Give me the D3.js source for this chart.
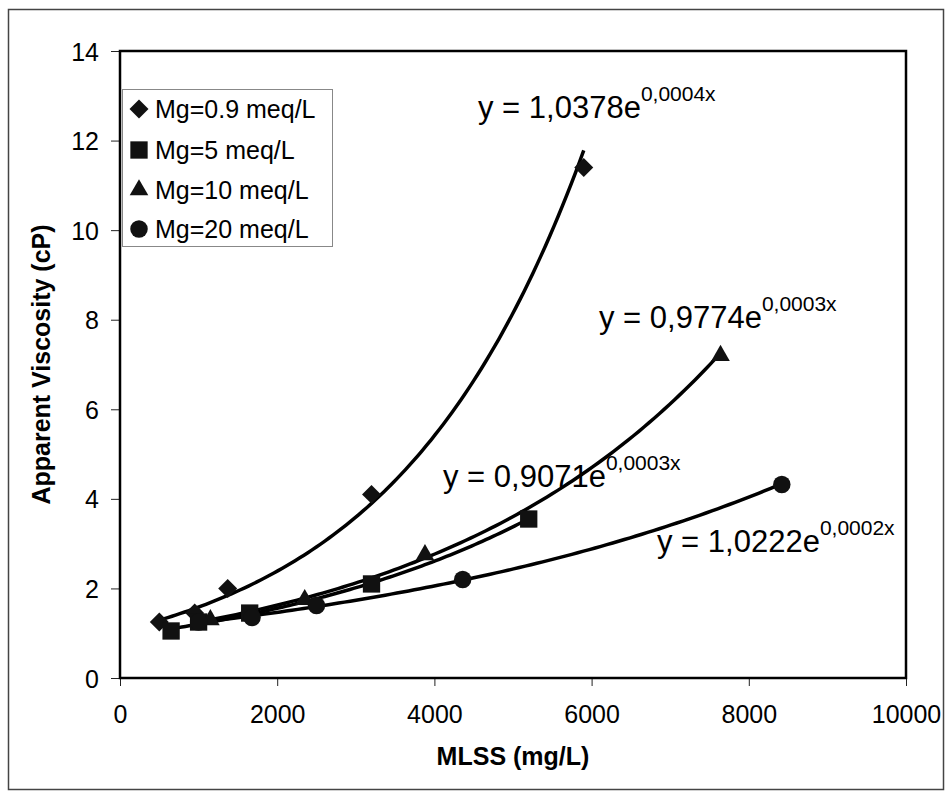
<!DOCTYPE html>
<html>
<head>
<meta charset="utf-8">
<style>
  body { margin: 0; background: #fff; }
  svg { display: block; font-family: "Liberation Sans", Arial, sans-serif; }
</style>
</head>
<body>
<svg width="946" height="792"></svg>
<script src="https://d3js.org/d3.v7.min.js"></script>
<script>
// series: MLSS (mg/L) vs apparent viscosity (cP)
var seriesNames = ["Mg=0.9 meq/L", "Mg=5 meq/L", "Mg=10 meq/L", "Mg=20 meq/L"];
var mg09X = [500, 950, 1370, 3200, 5900];
var mg09Y = [1.25, 1.45, 2.0, 4.1, 11.4];
var mg5X = [650, 1000, 1650, 3200, 5200];
var mg5Y = [1.05, 1.25, 1.45, 2.1, 3.55];
var mg10X = [1150, 2350, 3880, 7640];
var mg10Y = [1.3, 1.75, 2.75, 7.2];
var mg20X = [1000, 1680, 2500, 4360, 8420];
var mg20Y = [1.25, 1.35, 1.62, 2.2, 4.32];

// trendline equations as printed on the chart
var eqCoef = ["y = 1,0378e", "y = 0,9774e", "y = 0,9071e", "y = 1,0222e"];
var eqExp = ["0,0004x", "0,0003x", "0,0003x", "0,0002x"];

var xTicks = [0, 2000, 4000, 6000, 8000, 10000];
var yTicks = [0, 2, 4, 6, 8, 10, 12, 14];

var svg = d3.select("svg");

// outer chart frame
svg.append("rect")
    .attr("x", 8.5).attr("y", 9.5)
    .attr("width", 935).attr("height", 780)
    .attr("fill", "none")
    .attr("stroke", "#444")
    .attr("stroke-width", 1.5);

var plotL = 120, plotR = 906, plotT = 51, plotB = 678;

var x = d3.scaleLinear().domain([0, 10000]).range([plotL, plotR]);
var y = d3.scaleLinear().domain([0, 14]).range([plotB, plotT]);

// axes
var xAxis = svg.append("g")
    .attr("transform", "translate(0," + plotB + ")")
    .call(d3.axisBottom(x).tickValues(xTicks).tickFormat(d3.format("d")).tickSize(8));
var yAxis = svg.append("g")
    .attr("transform", "translate(" + plotL + ",0)")
    .call(d3.axisLeft(y).tickValues(yTicks).tickFormat(d3.format("d")).tickSize(9).tickPadding(12));

[xAxis, yAxis].forEach(function(a) {
    a.select(".domain").remove();
    a.selectAll(".tick line").attr("stroke", "#222").attr("stroke-width", 1);
    a.selectAll(".tick text")
        .attr("fill", "#000")
        .style("font-size", "25px")
        .style("font-family", "'Liberation Sans', Arial, sans-serif");
});
xAxis.selectAll(".tick text").attr("dy", null).attr("y", 45);
yAxis.selectAll(".tick text").attr("dy", "0.36em");

// plot area border
svg.append("rect")
    .attr("x", plotL).attr("y", plotT)
    .attr("width", plotR - plotL).attr("height", plotB - plotT)
    .attr("fill", "none")
    .attr("stroke", "#000")
    .attr("stroke-width", 2.5);

// axis titles
svg.append("text")
    .attr("x", (plotL + plotR) / 2).attr("y", 765)
    .attr("text-anchor", "middle")
    .attr("font-weight", "bold")
    .attr("font-size", 25)
    .text("MLSS (mg/L)");
svg.append("text")
    .attr("transform", "translate(50," + (plotT + plotB) / 2 + ") rotate(-90)")
    .attr("text-anchor", "middle")
    .attr("font-weight", "bold")
    .attr("font-size", 25)
    .text("Apparent Viscosity (cP)");

// symbols
var symbols = [
    { type: d3.symbolSquare, size: 180, rot: 45 },
    { type: d3.symbolSquare, size: 300, rot: 0 },
    { type: d3.symbolTriangle, size: 150, rot: 0 },
    { type: d3.symbolCircle, size: 240, rot: 0 }
];

var data = [
    d3.zip(mg09X, mg09Y),
    d3.zip(mg5X, mg5Y),
    d3.zip(mg10X, mg10Y),
    d3.zip(mg20X, mg20Y)
];

// exponential trendline: least squares on ln(y)
function expFit(pts) {
    var mx = d3.mean(pts, function(d) { return d[0]; });
    var ml = d3.mean(pts, function(d) { return Math.log(d[1]); });
    var sxx = 0, sxy = 0;
    pts.forEach(function(d) {
        sxx += (d[0] - mx) * (d[0] - mx);
        sxy += (d[0] - mx) * (Math.log(d[1]) - ml);
    });
    var b = sxy / sxx;
    var a = Math.exp(ml - b * mx);
    return function(v) { return a * Math.exp(b * v); };
}

var line = d3.line()
    .x(function(d) { return x(d[0]); })
    .y(function(d) { return y(d[1]); });

data.forEach(function(pts, i) {
    var f = expFit(pts);
    var ext = d3.extent(pts, function(d) { return d[0]; });
    var samples = d3.range(0, 101).map(function(k) {
        var v = ext[0] + (ext[1] - ext[0]) * k / 100;
        return [v, f(v)];
    });
    svg.append("path")
        .datum(samples)
        .attr("fill", "none")
        .attr("stroke", "#000")
        .attr("stroke-width", 3.5)
        .attr("d", line);
});

data.forEach(function(pts, i) {
    var s = symbols[i];
    svg.append("g").selectAll("path")
        .data(pts)
        .enter().append("path")
        .attr("transform", function(d) {
            return "translate(" + x(d[0]) + "," + y(d[1]) + ") rotate(" + s.rot + ")";
        })
        .attr("d", d3.symbol().type(s.type).size(s.size))
        .attr("fill", "#111");
});

// legend
var legend = svg.append("g");
legend.append("rect")
    .attr("x", 122.5).attr("y", 89.5)
    .attr("width", 210).attr("height", 157)
    .attr("fill", "#fff")
    .attr("stroke", "#888")
    .attr("stroke-width", 1);
var legendY = [109, 150, 190, 229];
seriesNames.forEach(function(name, i) {
    var s = symbols[i];
    legend.append("path")
        .attr("transform", "translate(139," + legendY[i] + ") rotate(" + s.rot + ")")
        .attr("d", d3.symbol().type(s.type).size(s.size))
        .attr("fill", "#111");
    legend.append("text")
        .attr("x", 155).attr("y", legendY[i] + 9)
        .attr("font-size", 25)
        .text(name);
});

// trendline equations
var eqPos = [[478, 118], [599, 328], [443, 487], [657, 552]];
eqCoef.forEach(function(c, i) {
    var t = svg.append("text")
        .attr("x", eqPos[i][0]).attr("y", eqPos[i][1])
        .attr("font-size", 31);
    t.append("tspan").text(c);
    t.append("tspan")
        .attr("dy", -17)
        .attr("font-size", 21)
        .text(eqExp[i]);
});
</script>
</body>
</html>
